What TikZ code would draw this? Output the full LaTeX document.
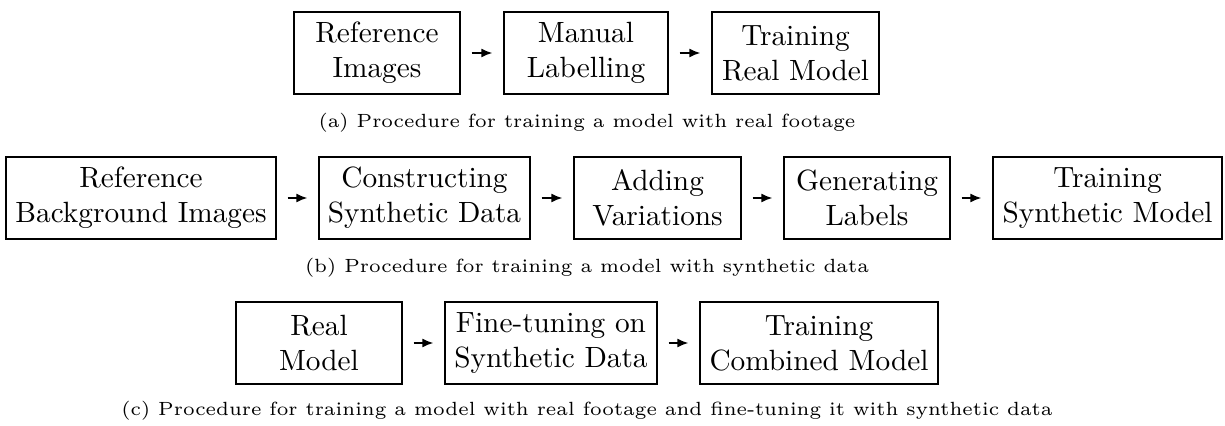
\documentclass[tikz,border=0pt]{standalone}
\usetikzlibrary{arrows.meta}
\tikzset{
  stepbox/.style={draw, line width=0.8pt, minimum height=1.64cm, align=center, inner sep=0pt},
  flow/.style={-{Latex[length=2.2mm,width=1.8mm]}, line width=0.8pt, shorten <=2.2mm, shorten >=2.2mm},
  captext/.style={inner sep=0pt}
}
\newcommand{\capt}[1]{\scalebox{1.81}{\fontsize{6}{7}\selectfont #1}}
\newcommand{\btxt}[2]{\scalebox{1.667}{\fontsize{10}{11.95}\selectfont\vbox{\halign{\hfil##\hfil\cr #1\cr #2\cr}}}}
\begin{document}
\begin{tikzpicture}
\useasboundingbox (0,0) rectangle (24.5,8.52);
% row a
\node[stepbox, minimum width=3.32cm] (a1) at (7.54,7.46) {\btxt{Reference}{Images}};
\node[stepbox, minimum width=3.28cm] (a2) at (11.72,7.46) {\btxt{Manual}{Labelling}};
\node[stepbox, minimum width=3.34cm] (a3) at (15.91,7.46) {\btxt{Training}{Real Model}};
\draw[flow] (a1) -- (a2);
\draw[flow] (a2) -- (a3);
\node[captext] (ca) at (11.74,6.06) {\capt{(a) Procedure for training a model with real footage}};
% row b
\node[stepbox, minimum width=5.40cm] (b1) at (2.82,4.56) {\btxt{Reference}{Background Images}};
\node[stepbox, minimum width=4.22cm] (b2) at (8.49,4.56) {\btxt{Constructing}{Synthetic Data}};
\node[stepbox, minimum width=3.34cm] (b3) at (13.15,4.56) {\btxt{Adding}{Variations}};
\node[stepbox, minimum width=3.32cm] (b4) at (17.34,4.56) {\btxt{Generating}{Labels}};
\node[stepbox, minimum width=4.58cm] (b5) at (22.15,4.56) {\btxt{Training}{Synthetic Model}};
\draw[flow] (b1) -- (b2);
\draw[flow] (b2) -- (b3);
\draw[flow] (b3) -- (b4);
\draw[flow] (b4) -- (b5);
\node[captext] (cb) at (11.74,3.16) {\capt{(b) Procedure for training a model with synthetic data}};
% row c
\node[stepbox, minimum width=3.32cm] (c1) at (6.38,1.66) {\btxt{Real}{Model}};
\node[stepbox, minimum width=4.24cm] (c2) at (11.02,1.66) {\btxt{Fine-tuning on}{Synthetic Data}};
\node[stepbox, minimum width=4.76cm] (c3) at (16.38,1.66) {\btxt{Training}{Combined Model}};
\draw[flow] (c1) -- (c2);
\draw[flow] (c2) -- (c3);
\node[captext] (cc) at (11.74,0.30) {\capt{(c) Procedure for training a model with real footage and fine-tuning it with synthetic data}};
\end{tikzpicture}
\end{document}
